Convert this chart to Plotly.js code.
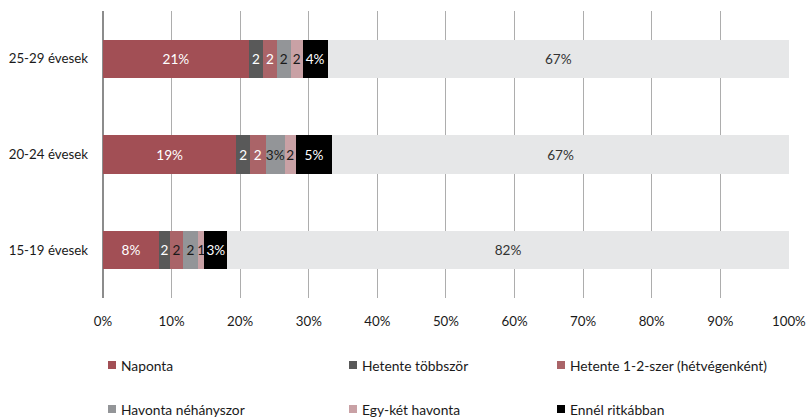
<!DOCTYPE html>
<html>
<head>
<meta charset="utf-8">
<script src="https://cdn.plot.ly/plotly-3.0.1.min.js"></script>
<style>html,body{margin:0;padding:0;background:#fff;}#chart{width:806px;height:417px;}</style>
</head>
<body>
<div id="chart"></div>
<script>
const categories = ["15-19 évesek", "20-24 évesek", "25-29 évesek"];
const seriesNames = ["Naponta", "Hetente többször", "Hetente 1-2-szer (hétvégenként)", "Havonta néhányszor", "Egy-két havonta", "Ennél ritkábban", "Egyéb"];
const naponta = [8.16, 19.45, 21.28];
const hetenteTobbszor = [1.6, 1.98, 2.04];
const hetente12 = [1.9, 2.29, 2.04];
const havonta = [2.19, 2.77, 2.0];
const egyKet = [0.93, 1.6, 1.75];
const ennelRitkabban = [3.35, 5.35, 3.65];
const tobbi = [81.87, 66.56, 67.24];
const labelsNaponta = ["8%", "19%", "21%"];
const labelsHetenteTobbszor = ["2", "2", "2"];
const labelsHetente12 = ["2", "2", "2"];
const labelsHavonta = ["2", "3%", "2"];
const labelsEgyKet = ["1", "2", "2"];
const labelsEnnel = ["3%", "5%", "4%"];
const labelsTobbi = ["82%", "67%", "67%"];
const xTicks = [0, 10, 20, 30, 40, 50, 60, 70, 80, 90, 100];

const values = [naponta, hetenteTobbszor, hetente12, havonta, egyKet, ennelRitkabban, tobbi];
const labels = [labelsNaponta, labelsHetenteTobbszor, labelsHetente12, labelsHavonta, labelsEgyKet, labelsEnnel, labelsTobbi];
const colors = ["#A24F55", "#595959", "#AA6468", "#939598", "#C9A1A5", "#000000", "#E6E7E8"];
const textColors = [
  ["#ffffff","#ffffff","#ffffff"],
  ["#ffffff","#ffffff","#ffffff"],
  ["#1a1a1a","#ffffff","#ffffff"],
  ["#1a1a1a","#1a1a1a","#1a1a1a"],
  ["#1a1a1a","#1a1a1a","#1a1a1a"],
  ["#ffffff","#ffffff","#ffffff"],
  ["#333333","#333333","#333333"]
];
const FONT = "Lato, 'Open Sans', sans-serif";

const traces = values.map((v, i) => ({
  type: "bar",
  orientation: "h",
  y: categories,
  x: v,
  name: seriesNames[i],
  text: labels[i],
  textposition: "inside",
  insidetextanchor: "middle",
  textangle: 0,
  constraintext: "none",
  cliponaxis: false,
  textfont: {family: FONT, size: 13.6, color: textColors[i]},
  marker: {color: colors[i], line: {width: 0}},
  hoverinfo: "skip",
  showlegend: false
}));

// custom legend (3 columns x 2 rows), built from the series names/colors
const legendCols = [108, 349, 557];
const legendRows = [365, 409];
const L = 103, R = 17, T = 11, B = 119, W = 806, H = 417;
const pw = W - L - R, ph = H - T - B;
const px = x => (x - L) / pw;
const py = y => (H - B - y) / ph;
const shapes = [], annotations = [];
for (let i = 0; i < 6; i++) {
  const col = i % 3, row = Math.floor(i / 3);
  const x0 = legendCols[col], yc = legendRows[row];
  shapes.push({type: "rect", xref: "paper", yref: "paper",
    x0: px(x0), x1: px(x0 + 8), y0: py(yc + 4), y1: py(yc - 4),
    fillcolor: colors[i], line: {width: 0}});
  annotations.push({xref: "paper", yref: "paper", x: px(x0 + 11), y: py(yc),
    xanchor: "left", yanchor: "middle", showarrow: false,
    text: seriesNames[i], font: {family: FONT, size: 13.8, color: "#1a1a1a"}});
}

const layout = {
  width: W, height: H,
  margin: {l: L, r: R, t: T, b: B, pad: 0, autoexpand: false},
  barmode: "stack",
  bargap: 0.6,
  paper_bgcolor: "#ffffff",
  plot_bgcolor: "#ffffff",
  font: {family: FONT, size: 13, color: "#1a1a1a"},
  uniformtext: {minsize: 13.6, mode: "show"},
  showlegend: false,
  xaxis: {
    range: [0, 100.02],
    tickvals: xTicks,
    ticktext: xTicks.map(t => t + "%"),
    showgrid: true, gridcolor: "#ADADAD", gridwidth: 1,
    zeroline: true, zerolinecolor: "#8C8C8C", zerolinewidth: 2,
    showline: false, ticks: "",
    ticklabelstandoff: 14,
    ticklabeloverflow: "allow",
    automargin: false,
    tickfont: {family: FONT, size: 13.3, color: "#1a1a1a"},
    fixedrange: true
  },
  yaxis: {
    showgrid: false, zeroline: false, showline: false, ticks: "",
    ticklabelstandoff: 14,
    automargin: false,
    tickfont: {family: FONT, size: 13.3, color: "#1a1a1a"},
    fixedrange: true
  },
  shapes: shapes,
  annotations: annotations
};

Plotly.newPlot("chart", traces, layout, {displayModeBar: false, staticPlot: true});
</script>
</body>
</html>
